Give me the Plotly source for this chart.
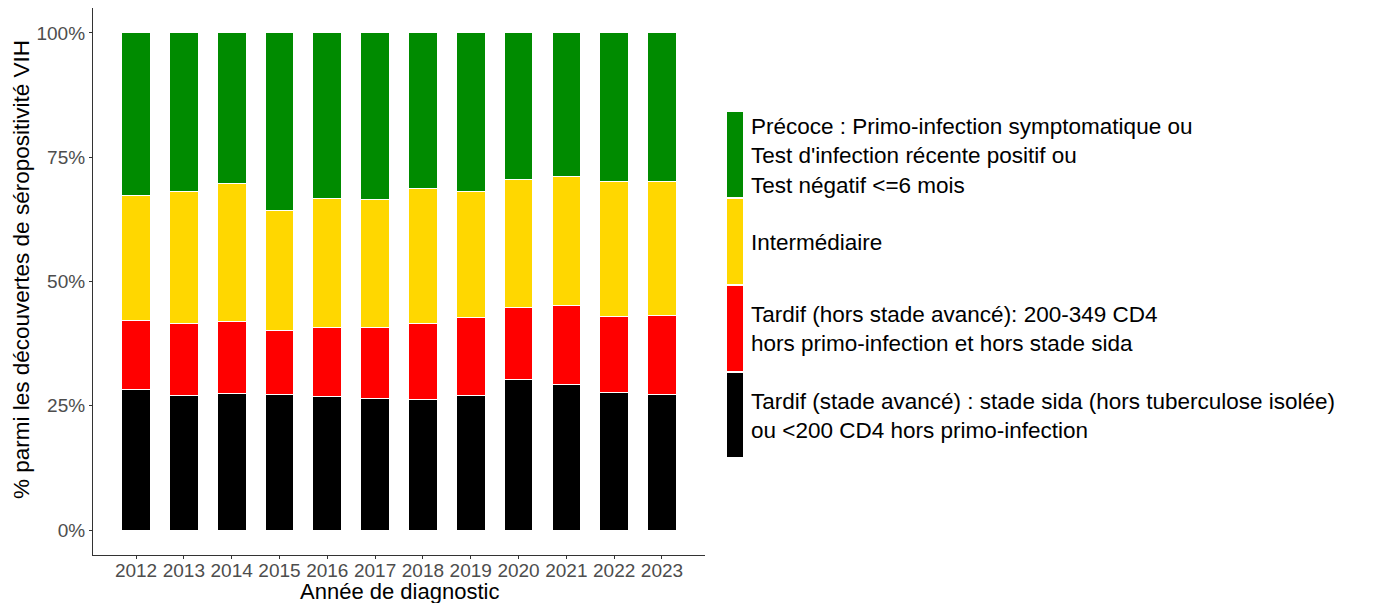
import plotly.graph_objects as go

# années de diagnostic et répartition (%) par stade
annees = ["2012", "2013", "2014", "2015", "2016", "2017",
          "2018", "2019", "2020", "2021", "2022", "2023"]
avance = [28.3, 27.0, 27.5, 27.3, 26.9, 26.5, 26.3, 27.0, 30.2, 29.2, 27.7, 27.2]
tardif = [13.9, 14.5, 14.4, 12.8, 13.8, 14.2, 15.2, 15.7, 14.5, 15.9, 15.2, 15.9]
intermediaire = [25.0, 26.7, 27.8, 24.1, 26.0, 25.8, 27.3, 25.5, 25.9, 26.0, 27.3, 27.0]
precoce = [32.8, 31.8, 30.3, 35.8, 33.3, 33.5, 31.2, 31.8, 29.4, 28.9, 29.8, 29.9]

y_ticks = [0, 25, 50, 75, 100]
y_labels = ["0%", "25%", "50%", "75%", "100%"]

noms = [
    "Précoce : Primo-infection symptomatique ou<br>Test d'infection récente positif ou<br>Test négatif <=6 mois",
    "Intermédiaire",
    "Tardif (hors stade avancé): 200-349 CD4<br>hors primo-infection et hors stade sida",
    "Tardif (stade avancé) : stade sida (hors tuberculose isolée)<br>ou <200 CD4 hors primo-infection",
]
couleurs = ["#008B00", "#FFD700", "#FF0000", "#000000"]
series = [precoce, intermediaire, tardif, avance]

FONT = "Arial, Liberation Sans, sans-serif"

fig = go.Figure()
# empilement du bas vers le haut
for nom, coul, vals in reversed(list(zip(noms, couleurs, series))):
    fig.add_trace(go.Bar(x=annees, y=vals, name=nom, width=0.6,
                         marker=dict(color=coul, line=dict(color="white", width=1)),
                         showlegend=False))

# plot area in pixels (for placing the hand-made legend)
L, R, T, B = 93, 705, 8, 555
W, H = R - L, B - T

def px_x(x):
    return (x - L) / W

def px_y(y):
    return (B - y) / H

cles = [(112, 197), (199, 284), (286, 371), (373, 457)]
for (y0, y1), coul, nom in zip(cles, couleurs, noms):
    fig.add_shape(type="rect", xref="paper", yref="paper",
                  x0=px_x(727), x1=px_x(743), y0=px_y(y1), y1=px_y(y0),
                  fillcolor=coul, line=dict(width=0))
    fig.add_annotation(xref="paper", yref="paper", x=px_x(749), y=px_y((y0 + y1) / 2 + 1),
                       text=nom, showarrow=False, xanchor="left", yanchor="middle",
                       align="left", font=dict(family=FONT, size=22.5, color="black"))

# titres des axes
fig.add_annotation(xref="paper", yref="paper", x=px_x(399), y=px_y(591),
                   text="Année de diagnostic", showarrow=False,
                   xanchor="center", yanchor="middle",
                   font=dict(family=FONT, size=22, color="black"))
fig.add_annotation(xref="paper", yref="paper", x=px_x(21), y=px_y(270),
                   text="% parmi les découvertes de séropositivité VIH", showarrow=False,
                   textangle=-90, xanchor="center", yanchor="middle",
                   font=dict(family=FONT, size=22.5, color="black"))

fig.update_layout(
    barmode="stack",
    width=1386, height=603,
    margin=dict(l=L, r=1386 - R, t=T, b=603 - B),
    paper_bgcolor="white", plot_bgcolor="white",
    font=dict(family=FONT),
)
fig.update_xaxes(
    type="category", range=[-0.9, 11.9], automargin=False,
    showline=True, linecolor="#333333", linewidth=1.2,
    ticks="outside", ticklen=3, tickcolor="#333333",
    ticklabelstandoff=-5,
    tickfont=dict(size=19, color="#4d4d4d"),
    showgrid=False, zeroline=False,
)
fig.update_yaxes(
    range=[-5, 105], tickvals=y_ticks, ticktext=y_labels, automargin=False,
    showline=True, linecolor="#333333", linewidth=1.2,
    ticks="outside", ticklen=3, tickcolor="#333333",
    tickfont=dict(size=19, color="#4d4d4d"),
    showgrid=False, zeroline=False,
)

# no body margin, so the figure sits at the top-left corner of the page
fig.write_html("out.html", config={"displayModeBar": False},
               post_script="document.body.style.margin='0';document.body.style.overflow='hidden';")
